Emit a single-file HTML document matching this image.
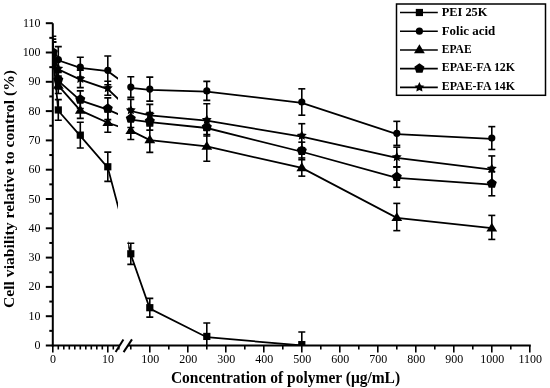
<!DOCTYPE html>
<html><head><meta charset="utf-8"><style>
html,body{margin:0;padding:0;background:#fff;}
body{width:550px;height:388px;overflow:hidden;}
svg{display:block;will-change:transform;}
.tl{font-family:"Liberation Serif",serif;font-size:12px;fill:#000;}
.tt{font-family:"Liberation Serif",serif;font-size:15.5px;font-weight:bold;fill:#000;}
.lg{font-family:"Liberation Serif",serif;font-size:12.2px;font-weight:bold;fill:#000;}
</style></head><body>
<svg width="550" height="388" viewBox="0 0 550 388">
<defs><clipPath id="cl"><rect x="52.8" y="0" width="65.2" height="345.5"/><rect x="128.2" y="0" width="500" height="345.5"/></clipPath><clipPath id="pa"><rect x="52.8" y="0" width="500" height="345.5"/></clipPath></defs>
<g clip-path="url(#pa)">
<path d="M52.80,53.30 L58.30,85.53 L80.30,110.43 L107.80,122.74 L130.80,130.65 L149.80,140.03 L206.80,146.47 L301.80,167.86 L396.80,217.82 L491.80,228.22" fill="none" stroke="#000" stroke-width="1.8" clip-path="url(#cl)"/>
<path d="M52.80,53.30 L58.30,80.84 L80.30,100.47 L107.80,109.56 L130.80,119.52 L149.80,122.15 L206.80,128.01 L301.80,151.75 L396.80,177.82 L491.80,184.56" fill="none" stroke="#000" stroke-width="1.8" clip-path="url(#cl)"/>
<path d="M52.80,53.30 L58.30,69.42 L80.30,79.67 L107.80,89.05 L130.80,111.02 L149.80,115.42 L206.80,120.69 L301.80,136.51 L396.80,157.90 L491.80,169.62" fill="none" stroke="#000" stroke-width="1.8" clip-path="url(#cl)"/>
<path d="M52.80,53.30 L58.30,60.33 L80.30,67.95 L107.80,71.17 L130.80,87.87 L149.80,89.92 L206.80,91.68 L301.80,102.82 L396.80,134.17 L491.80,138.86" fill="none" stroke="#000" stroke-width="1.8" clip-path="url(#cl)"/>
<path d="M52.80,53.30 L58.30,110.73 L80.30,135.93 L107.80,167.57 L130.80,254.59 L149.80,308.50 L206.80,337.22 L301.80,345.42" fill="none" stroke="#000" stroke-width="1.8" clip-path="url(#cl)"/>
<line x1="52.80" y1="41.95" x2="52.80" y2="63.05" stroke="#000" stroke-width="1.6"/>
<line x1="49.30" y1="41.95" x2="56.30" y2="41.95" stroke="#000" stroke-width="1.6"/>
<line x1="49.30" y1="63.05" x2="56.30" y2="63.05" stroke="#000" stroke-width="1.6"/>
<line x1="58.30" y1="75.94" x2="58.30" y2="93.52" stroke="#000" stroke-width="1.6"/>
<line x1="54.80" y1="75.94" x2="61.80" y2="75.94" stroke="#000" stroke-width="1.6"/>
<line x1="54.80" y1="93.52" x2="61.80" y2="93.52" stroke="#000" stroke-width="1.6"/>
<line x1="80.30" y1="100.84" x2="80.30" y2="118.42" stroke="#000" stroke-width="1.6"/>
<line x1="76.80" y1="100.84" x2="83.80" y2="100.84" stroke="#000" stroke-width="1.6"/>
<line x1="76.80" y1="118.42" x2="83.80" y2="118.42" stroke="#000" stroke-width="1.6"/>
<line x1="107.80" y1="111.69" x2="107.80" y2="132.20" stroke="#000" stroke-width="1.6"/>
<line x1="104.30" y1="111.69" x2="111.30" y2="111.69" stroke="#000" stroke-width="1.6"/>
<line x1="104.30" y1="132.20" x2="111.30" y2="132.20" stroke="#000" stroke-width="1.6"/>
<line x1="130.80" y1="120.18" x2="130.80" y2="139.52" stroke="#000" stroke-width="1.6"/>
<line x1="127.30" y1="120.18" x2="134.30" y2="120.18" stroke="#000" stroke-width="1.6"/>
<line x1="127.30" y1="139.52" x2="134.30" y2="139.52" stroke="#000" stroke-width="1.6"/>
<line x1="149.80" y1="126.04" x2="149.80" y2="152.41" stroke="#000" stroke-width="1.6"/>
<line x1="146.30" y1="126.04" x2="153.30" y2="126.04" stroke="#000" stroke-width="1.6"/>
<line x1="146.30" y1="152.41" x2="153.30" y2="152.41" stroke="#000" stroke-width="1.6"/>
<line x1="206.80" y1="130.14" x2="206.80" y2="161.20" stroke="#000" stroke-width="1.6"/>
<line x1="203.30" y1="130.14" x2="210.30" y2="130.14" stroke="#000" stroke-width="1.6"/>
<line x1="203.30" y1="161.20" x2="210.30" y2="161.20" stroke="#000" stroke-width="1.6"/>
<line x1="301.80" y1="157.98" x2="301.80" y2="176.15" stroke="#000" stroke-width="1.6"/>
<line x1="298.30" y1="157.98" x2="305.30" y2="157.98" stroke="#000" stroke-width="1.6"/>
<line x1="298.30" y1="176.15" x2="305.30" y2="176.15" stroke="#000" stroke-width="1.6"/>
<line x1="396.80" y1="203.39" x2="396.80" y2="230.64" stroke="#000" stroke-width="1.6"/>
<line x1="393.30" y1="203.39" x2="400.30" y2="203.39" stroke="#000" stroke-width="1.6"/>
<line x1="393.30" y1="230.64" x2="400.30" y2="230.64" stroke="#000" stroke-width="1.6"/>
<line x1="491.80" y1="215.41" x2="491.80" y2="239.43" stroke="#000" stroke-width="1.6"/>
<line x1="488.30" y1="215.41" x2="495.30" y2="215.41" stroke="#000" stroke-width="1.6"/>
<line x1="488.30" y1="239.43" x2="495.30" y2="239.43" stroke="#000" stroke-width="1.6"/>
<line x1="52.80" y1="41.95" x2="52.80" y2="63.05" stroke="#000" stroke-width="1.6"/>
<line x1="49.30" y1="41.95" x2="56.30" y2="41.95" stroke="#000" stroke-width="1.6"/>
<line x1="49.30" y1="63.05" x2="56.30" y2="63.05" stroke="#000" stroke-width="1.6"/>
<line x1="58.30" y1="71.25" x2="58.30" y2="88.83" stroke="#000" stroke-width="1.6"/>
<line x1="54.80" y1="71.25" x2="61.80" y2="71.25" stroke="#000" stroke-width="1.6"/>
<line x1="54.80" y1="88.83" x2="61.80" y2="88.83" stroke="#000" stroke-width="1.6"/>
<line x1="80.30" y1="90.88" x2="80.30" y2="108.46" stroke="#000" stroke-width="1.6"/>
<line x1="76.80" y1="90.88" x2="83.80" y2="90.88" stroke="#000" stroke-width="1.6"/>
<line x1="76.80" y1="108.46" x2="83.80" y2="108.46" stroke="#000" stroke-width="1.6"/>
<line x1="107.80" y1="97.91" x2="107.80" y2="119.60" stroke="#000" stroke-width="1.6"/>
<line x1="104.30" y1="97.91" x2="111.30" y2="97.91" stroke="#000" stroke-width="1.6"/>
<line x1="104.30" y1="119.60" x2="111.30" y2="119.60" stroke="#000" stroke-width="1.6"/>
<line x1="130.80" y1="109.93" x2="130.80" y2="127.51" stroke="#000" stroke-width="1.6"/>
<line x1="127.30" y1="109.93" x2="134.30" y2="109.93" stroke="#000" stroke-width="1.6"/>
<line x1="127.30" y1="127.51" x2="134.30" y2="127.51" stroke="#000" stroke-width="1.6"/>
<line x1="149.80" y1="112.56" x2="149.80" y2="130.14" stroke="#000" stroke-width="1.6"/>
<line x1="146.30" y1="112.56" x2="153.30" y2="112.56" stroke="#000" stroke-width="1.6"/>
<line x1="146.30" y1="130.14" x2="153.30" y2="130.14" stroke="#000" stroke-width="1.6"/>
<line x1="206.80" y1="119.89" x2="206.80" y2="134.54" stroke="#000" stroke-width="1.6"/>
<line x1="203.30" y1="119.89" x2="210.30" y2="119.89" stroke="#000" stroke-width="1.6"/>
<line x1="203.30" y1="134.54" x2="210.30" y2="134.54" stroke="#000" stroke-width="1.6"/>
<line x1="301.80" y1="142.16" x2="301.80" y2="159.74" stroke="#000" stroke-width="1.6"/>
<line x1="298.30" y1="142.16" x2="305.30" y2="142.16" stroke="#000" stroke-width="1.6"/>
<line x1="298.30" y1="159.74" x2="305.30" y2="159.74" stroke="#000" stroke-width="1.6"/>
<line x1="396.80" y1="166.77" x2="396.80" y2="187.28" stroke="#000" stroke-width="1.6"/>
<line x1="393.30" y1="166.77" x2="400.30" y2="166.77" stroke="#000" stroke-width="1.6"/>
<line x1="393.30" y1="187.28" x2="400.30" y2="187.28" stroke="#000" stroke-width="1.6"/>
<line x1="491.80" y1="171.75" x2="491.80" y2="195.78" stroke="#000" stroke-width="1.6"/>
<line x1="488.30" y1="171.75" x2="495.30" y2="171.75" stroke="#000" stroke-width="1.6"/>
<line x1="488.30" y1="195.78" x2="495.30" y2="195.78" stroke="#000" stroke-width="1.6"/>
<line x1="52.80" y1="41.95" x2="52.80" y2="63.05" stroke="#000" stroke-width="1.6"/>
<line x1="49.30" y1="41.95" x2="56.30" y2="41.95" stroke="#000" stroke-width="1.6"/>
<line x1="49.30" y1="63.05" x2="56.30" y2="63.05" stroke="#000" stroke-width="1.6"/>
<line x1="58.30" y1="59.82" x2="58.30" y2="77.40" stroke="#000" stroke-width="1.6"/>
<line x1="54.80" y1="59.82" x2="61.80" y2="59.82" stroke="#000" stroke-width="1.6"/>
<line x1="54.80" y1="77.40" x2="61.80" y2="77.40" stroke="#000" stroke-width="1.6"/>
<line x1="80.30" y1="70.08" x2="80.30" y2="87.66" stroke="#000" stroke-width="1.6"/>
<line x1="76.80" y1="70.08" x2="83.80" y2="70.08" stroke="#000" stroke-width="1.6"/>
<line x1="76.80" y1="87.66" x2="83.80" y2="87.66" stroke="#000" stroke-width="1.6"/>
<line x1="107.80" y1="81.21" x2="107.80" y2="95.28" stroke="#000" stroke-width="1.6"/>
<line x1="104.30" y1="81.21" x2="111.30" y2="81.21" stroke="#000" stroke-width="1.6"/>
<line x1="104.30" y1="95.28" x2="111.30" y2="95.28" stroke="#000" stroke-width="1.6"/>
<line x1="130.80" y1="99.38" x2="130.80" y2="121.06" stroke="#000" stroke-width="1.6"/>
<line x1="127.30" y1="99.38" x2="134.30" y2="99.38" stroke="#000" stroke-width="1.6"/>
<line x1="127.30" y1="121.06" x2="134.30" y2="121.06" stroke="#000" stroke-width="1.6"/>
<line x1="149.80" y1="104.36" x2="149.80" y2="124.87" stroke="#000" stroke-width="1.6"/>
<line x1="146.30" y1="104.36" x2="153.30" y2="104.36" stroke="#000" stroke-width="1.6"/>
<line x1="146.30" y1="124.87" x2="153.30" y2="124.87" stroke="#000" stroke-width="1.6"/>
<line x1="206.80" y1="103.77" x2="206.80" y2="136.00" stroke="#000" stroke-width="1.6"/>
<line x1="203.30" y1="103.77" x2="210.30" y2="103.77" stroke="#000" stroke-width="1.6"/>
<line x1="203.30" y1="136.00" x2="210.30" y2="136.00" stroke="#000" stroke-width="1.6"/>
<line x1="301.80" y1="123.70" x2="301.80" y2="147.72" stroke="#000" stroke-width="1.6"/>
<line x1="298.30" y1="123.70" x2="305.30" y2="123.70" stroke="#000" stroke-width="1.6"/>
<line x1="298.30" y1="147.72" x2="305.30" y2="147.72" stroke="#000" stroke-width="1.6"/>
<line x1="396.80" y1="147.14" x2="396.80" y2="167.06" stroke="#000" stroke-width="1.6"/>
<line x1="393.30" y1="147.14" x2="400.30" y2="147.14" stroke="#000" stroke-width="1.6"/>
<line x1="393.30" y1="167.06" x2="400.30" y2="167.06" stroke="#000" stroke-width="1.6"/>
<line x1="491.80" y1="155.93" x2="491.80" y2="181.71" stroke="#000" stroke-width="1.6"/>
<line x1="488.30" y1="155.93" x2="495.30" y2="155.93" stroke="#000" stroke-width="1.6"/>
<line x1="488.30" y1="181.71" x2="495.30" y2="181.71" stroke="#000" stroke-width="1.6"/>
<line x1="52.80" y1="39.17" x2="52.80" y2="65.83" stroke="#000" stroke-width="1.6"/>
<line x1="49.30" y1="39.17" x2="56.30" y2="39.17" stroke="#000" stroke-width="1.6"/>
<line x1="49.30" y1="65.83" x2="56.30" y2="65.83" stroke="#000" stroke-width="1.6"/>
<line x1="58.30" y1="46.64" x2="58.30" y2="72.42" stroke="#000" stroke-width="1.6"/>
<line x1="54.80" y1="46.64" x2="61.80" y2="46.64" stroke="#000" stroke-width="1.6"/>
<line x1="54.80" y1="72.42" x2="61.80" y2="72.42" stroke="#000" stroke-width="1.6"/>
<line x1="80.30" y1="57.19" x2="80.30" y2="77.11" stroke="#000" stroke-width="1.6"/>
<line x1="76.80" y1="57.19" x2="83.80" y2="57.19" stroke="#000" stroke-width="1.6"/>
<line x1="76.80" y1="77.11" x2="83.80" y2="77.11" stroke="#000" stroke-width="1.6"/>
<line x1="107.80" y1="56.02" x2="107.80" y2="84.73" stroke="#000" stroke-width="1.6"/>
<line x1="104.30" y1="56.02" x2="111.30" y2="56.02" stroke="#000" stroke-width="1.6"/>
<line x1="104.30" y1="84.73" x2="111.30" y2="84.73" stroke="#000" stroke-width="1.6"/>
<line x1="130.80" y1="76.82" x2="130.80" y2="97.33" stroke="#000" stroke-width="1.6"/>
<line x1="127.30" y1="76.82" x2="134.30" y2="76.82" stroke="#000" stroke-width="1.6"/>
<line x1="127.30" y1="97.33" x2="134.30" y2="97.33" stroke="#000" stroke-width="1.6"/>
<line x1="149.80" y1="77.11" x2="149.80" y2="101.14" stroke="#000" stroke-width="1.6"/>
<line x1="146.30" y1="77.11" x2="153.30" y2="77.11" stroke="#000" stroke-width="1.6"/>
<line x1="146.30" y1="101.14" x2="153.30" y2="101.14" stroke="#000" stroke-width="1.6"/>
<line x1="206.80" y1="81.36" x2="206.80" y2="100.41" stroke="#000" stroke-width="1.6"/>
<line x1="203.30" y1="81.36" x2="210.30" y2="81.36" stroke="#000" stroke-width="1.6"/>
<line x1="203.30" y1="100.41" x2="210.30" y2="100.41" stroke="#000" stroke-width="1.6"/>
<line x1="301.80" y1="88.83" x2="301.80" y2="115.20" stroke="#000" stroke-width="1.6"/>
<line x1="298.30" y1="88.83" x2="305.30" y2="88.83" stroke="#000" stroke-width="1.6"/>
<line x1="298.30" y1="115.20" x2="305.30" y2="115.20" stroke="#000" stroke-width="1.6"/>
<line x1="396.80" y1="121.35" x2="396.80" y2="145.38" stroke="#000" stroke-width="1.6"/>
<line x1="393.30" y1="121.35" x2="400.30" y2="121.35" stroke="#000" stroke-width="1.6"/>
<line x1="393.30" y1="145.38" x2="400.30" y2="145.38" stroke="#000" stroke-width="1.6"/>
<line x1="491.80" y1="126.63" x2="491.80" y2="149.48" stroke="#000" stroke-width="1.6"/>
<line x1="488.30" y1="126.63" x2="495.30" y2="126.63" stroke="#000" stroke-width="1.6"/>
<line x1="488.30" y1="149.48" x2="495.30" y2="149.48" stroke="#000" stroke-width="1.6"/>
<line x1="52.80" y1="36.24" x2="52.80" y2="68.76" stroke="#000" stroke-width="1.6"/>
<line x1="49.30" y1="36.24" x2="56.30" y2="36.24" stroke="#000" stroke-width="1.6"/>
<line x1="49.30" y1="68.76" x2="56.30" y2="68.76" stroke="#000" stroke-width="1.6"/>
<line x1="58.30" y1="99.67" x2="58.30" y2="120.18" stroke="#000" stroke-width="1.6"/>
<line x1="54.80" y1="99.67" x2="61.80" y2="99.67" stroke="#000" stroke-width="1.6"/>
<line x1="54.80" y1="120.18" x2="61.80" y2="120.18" stroke="#000" stroke-width="1.6"/>
<line x1="80.30" y1="122.23" x2="80.30" y2="148.02" stroke="#000" stroke-width="1.6"/>
<line x1="76.80" y1="122.23" x2="83.80" y2="122.23" stroke="#000" stroke-width="1.6"/>
<line x1="76.80" y1="148.02" x2="83.80" y2="148.02" stroke="#000" stroke-width="1.6"/>
<line x1="107.80" y1="152.12" x2="107.80" y2="181.42" stroke="#000" stroke-width="1.6"/>
<line x1="104.30" y1="152.12" x2="111.30" y2="152.12" stroke="#000" stroke-width="1.6"/>
<line x1="104.30" y1="181.42" x2="111.30" y2="181.42" stroke="#000" stroke-width="1.6"/>
<line x1="130.80" y1="243.24" x2="130.80" y2="264.34" stroke="#000" stroke-width="1.6"/>
<line x1="127.30" y1="243.24" x2="134.30" y2="243.24" stroke="#000" stroke-width="1.6"/>
<line x1="127.30" y1="264.34" x2="134.30" y2="264.34" stroke="#000" stroke-width="1.6"/>
<line x1="149.80" y1="298.33" x2="149.80" y2="317.08" stroke="#000" stroke-width="1.6"/>
<line x1="146.30" y1="298.33" x2="153.30" y2="298.33" stroke="#000" stroke-width="1.6"/>
<line x1="146.30" y1="317.08" x2="153.30" y2="317.08" stroke="#000" stroke-width="1.6"/>
<line x1="206.80" y1="322.94" x2="206.80" y2="349.89" stroke="#000" stroke-width="1.6"/>
<line x1="203.30" y1="322.94" x2="210.30" y2="322.94" stroke="#000" stroke-width="1.6"/>
<line x1="203.30" y1="349.89" x2="210.30" y2="349.89" stroke="#000" stroke-width="1.6"/>
<line x1="301.80" y1="332.02" x2="301.80" y2="357.22" stroke="#000" stroke-width="1.6"/>
<line x1="298.30" y1="332.02" x2="305.30" y2="332.02" stroke="#000" stroke-width="1.6"/>
<line x1="298.30" y1="357.22" x2="305.30" y2="357.22" stroke="#000" stroke-width="1.6"/>
<polygon points="52.80,47.80 58.20,56.60 47.40,56.60" fill="#000"/>
<polygon points="58.30,80.03 63.70,88.83 52.90,88.83" fill="#000"/>
<polygon points="80.30,104.93 85.70,113.73 74.90,113.73" fill="#000"/>
<polygon points="107.80,117.24 113.20,126.04 102.40,126.04" fill="#000"/>
<polygon points="130.80,125.15 136.20,133.95 125.40,133.95" fill="#000"/>
<polygon points="149.80,134.53 155.20,143.33 144.40,143.33" fill="#000"/>
<polygon points="206.80,140.97 212.20,149.77 201.40,149.77" fill="#000"/>
<polygon points="301.80,162.36 307.20,171.16 296.40,171.16" fill="#000"/>
<polygon points="396.80,212.32 402.20,221.12 391.40,221.12" fill="#000"/>
<polygon points="491.80,222.72 497.20,231.52 486.40,231.52" fill="#000"/>
<polygon points="52.80,47.00 57.84,50.66 55.92,56.59 49.68,56.59 47.76,50.66" fill="#000"/>
<polygon points="58.30,74.54 63.34,78.20 61.42,84.13 55.18,84.13 53.26,78.20" fill="#000"/>
<polygon points="80.30,94.17 85.34,97.84 83.42,103.76 77.18,103.76 75.26,97.84" fill="#000"/>
<polygon points="107.80,103.26 112.84,106.92 110.92,112.84 104.68,112.84 102.76,106.92" fill="#000"/>
<polygon points="130.80,113.22 135.84,116.88 133.92,122.81 127.68,122.81 125.76,116.88" fill="#000"/>
<polygon points="149.80,115.85 154.84,119.52 152.92,125.44 146.68,125.44 144.76,119.52" fill="#000"/>
<polygon points="206.80,121.71 211.84,125.38 209.92,131.30 203.68,131.30 201.76,125.38" fill="#000"/>
<polygon points="301.80,145.45 306.84,149.11 304.92,155.04 298.68,155.04 296.76,149.11" fill="#000"/>
<polygon points="396.80,171.52 401.84,175.19 399.92,181.11 393.68,181.11 391.76,175.19" fill="#000"/>
<polygon points="491.80,178.26 496.84,181.93 494.92,187.85 488.68,187.85 486.76,181.93" fill="#000"/>
<polygon points="52.80,47.20 54.33,50.30 57.75,50.79 55.27,53.20 55.86,56.61 52.80,55.00 49.74,56.61 50.33,53.20 47.85,50.79 51.27,50.30" fill="#000"/>
<polygon points="58.30,63.32 59.83,66.41 63.25,66.91 60.77,69.32 61.36,72.72 58.30,71.12 55.24,72.72 55.83,69.32 53.35,66.91 56.77,66.41" fill="#000"/>
<polygon points="80.30,73.57 81.83,76.67 85.25,77.16 82.77,79.57 83.36,82.98 80.30,81.37 77.24,82.98 77.83,79.57 75.35,77.16 78.77,76.67" fill="#000"/>
<polygon points="107.80,82.95 109.33,86.04 112.75,86.54 110.27,88.95 110.86,92.35 107.80,90.75 104.74,92.35 105.33,88.95 102.85,86.54 106.27,86.04" fill="#000"/>
<polygon points="130.80,104.92 132.33,108.02 135.75,108.51 133.27,110.92 133.86,114.33 130.80,112.72 127.74,114.33 128.33,110.92 125.85,108.51 129.27,108.02" fill="#000"/>
<polygon points="149.80,109.32 151.33,112.41 154.75,112.91 152.27,115.32 152.86,118.72 149.80,117.12 146.74,118.72 147.33,115.32 144.85,112.91 148.27,112.41" fill="#000"/>
<polygon points="206.80,114.59 208.33,117.69 211.75,118.18 209.27,120.59 209.86,124.00 206.80,122.39 203.74,124.00 204.33,120.59 201.85,118.18 205.27,117.69" fill="#000"/>
<polygon points="301.80,130.41 303.33,133.51 306.75,134.01 304.27,136.42 304.86,139.82 301.80,138.21 298.74,139.82 299.33,136.42 296.85,134.01 300.27,133.51" fill="#000"/>
<polygon points="396.80,151.80 398.33,154.90 401.75,155.39 399.27,157.80 399.86,161.21 396.80,159.60 393.74,161.21 394.33,157.80 391.85,155.39 395.27,154.90" fill="#000"/>
<polygon points="491.80,163.52 493.33,166.62 496.75,167.11 494.27,169.52 494.86,172.93 491.80,171.32 488.74,172.93 489.33,169.52 486.85,167.11 490.27,166.62" fill="#000"/>
<circle cx="52.80" cy="52.50" r="3.60" fill="#000"/>
<circle cx="58.30" cy="59.53" r="3.60" fill="#000"/>
<circle cx="80.30" cy="67.15" r="3.60" fill="#000"/>
<circle cx="107.80" cy="70.37" r="3.60" fill="#000"/>
<circle cx="130.80" cy="87.07" r="3.60" fill="#000"/>
<circle cx="149.80" cy="89.12" r="3.60" fill="#000"/>
<circle cx="206.80" cy="90.88" r="3.60" fill="#000"/>
<circle cx="301.80" cy="102.02" r="3.60" fill="#000"/>
<circle cx="396.80" cy="133.37" r="3.60" fill="#000"/>
<circle cx="491.80" cy="138.06" r="3.60" fill="#000"/>
<rect x="49.20" y="48.90" width="7.20" height="7.20" fill="#000"/>
<rect x="54.70" y="106.33" width="7.20" height="7.20" fill="#000"/>
<rect x="76.70" y="131.53" width="7.20" height="7.20" fill="#000"/>
<rect x="104.20" y="163.17" width="7.20" height="7.20" fill="#000"/>
<rect x="127.20" y="250.19" width="7.20" height="7.20" fill="#000"/>
<rect x="146.20" y="304.10" width="7.20" height="7.20" fill="#000"/>
<rect x="203.20" y="332.82" width="7.20" height="7.20" fill="#000"/>
<rect x="298.20" y="341.02" width="7.20" height="7.20" fill="#000"/>
</g>
<line x1="52.8" y1="23.19999999999999" x2="52.8" y2="346.5" stroke="#000" stroke-width="2"/>
<line x1="45.8" y1="345.50" x2="52.8" y2="345.50" stroke="#000" stroke-width="2"/>
<line x1="49.3" y1="330.85" x2="52.8" y2="330.85" stroke="#000" stroke-width="2"/>
<line x1="45.8" y1="316.20" x2="52.8" y2="316.20" stroke="#000" stroke-width="2"/>
<line x1="49.3" y1="301.55" x2="52.8" y2="301.55" stroke="#000" stroke-width="2"/>
<line x1="45.8" y1="286.90" x2="52.8" y2="286.90" stroke="#000" stroke-width="2"/>
<line x1="49.3" y1="272.25" x2="52.8" y2="272.25" stroke="#000" stroke-width="2"/>
<line x1="45.8" y1="257.60" x2="52.8" y2="257.60" stroke="#000" stroke-width="2"/>
<line x1="49.3" y1="242.95" x2="52.8" y2="242.95" stroke="#000" stroke-width="2"/>
<line x1="45.8" y1="228.30" x2="52.8" y2="228.30" stroke="#000" stroke-width="2"/>
<line x1="49.3" y1="213.65" x2="52.8" y2="213.65" stroke="#000" stroke-width="2"/>
<line x1="45.8" y1="199.00" x2="52.8" y2="199.00" stroke="#000" stroke-width="2"/>
<line x1="49.3" y1="184.35" x2="52.8" y2="184.35" stroke="#000" stroke-width="2"/>
<line x1="45.8" y1="169.70" x2="52.8" y2="169.70" stroke="#000" stroke-width="2"/>
<line x1="49.3" y1="155.05" x2="52.8" y2="155.05" stroke="#000" stroke-width="2"/>
<line x1="45.8" y1="140.40" x2="52.8" y2="140.40" stroke="#000" stroke-width="2"/>
<line x1="49.3" y1="125.75" x2="52.8" y2="125.75" stroke="#000" stroke-width="2"/>
<line x1="45.8" y1="111.10" x2="52.8" y2="111.10" stroke="#000" stroke-width="2"/>
<line x1="49.3" y1="96.45" x2="52.8" y2="96.45" stroke="#000" stroke-width="2"/>
<line x1="45.8" y1="81.80" x2="52.8" y2="81.80" stroke="#000" stroke-width="2"/>
<line x1="49.3" y1="67.15" x2="52.8" y2="67.15" stroke="#000" stroke-width="2"/>
<line x1="45.8" y1="52.50" x2="52.8" y2="52.50" stroke="#000" stroke-width="2"/>
<line x1="49.3" y1="37.85" x2="52.8" y2="37.85" stroke="#000" stroke-width="2"/>
<line x1="45.8" y1="23.20" x2="52.8" y2="23.20" stroke="#000" stroke-width="2"/>
<text transform="translate(40.6,349.00) scale(1,1.08)" class="tl" text-anchor="end">0</text>
<text transform="translate(40.6,319.70) scale(1,1.08)" class="tl" text-anchor="end">10</text>
<text transform="translate(40.6,290.40) scale(1,1.08)" class="tl" text-anchor="end">20</text>
<text transform="translate(40.6,261.10) scale(1,1.08)" class="tl" text-anchor="end">30</text>
<text transform="translate(40.6,231.80) scale(1,1.08)" class="tl" text-anchor="end">40</text>
<text transform="translate(40.6,202.50) scale(1,1.08)" class="tl" text-anchor="end">50</text>
<text transform="translate(40.6,173.20) scale(1,1.08)" class="tl" text-anchor="end">60</text>
<text transform="translate(40.6,143.90) scale(1,1.08)" class="tl" text-anchor="end">70</text>
<text transform="translate(40.6,114.60) scale(1,1.08)" class="tl" text-anchor="end">80</text>
<text transform="translate(40.6,85.30) scale(1,1.08)" class="tl" text-anchor="end">90</text>
<text transform="translate(40.6,56.00) scale(1,1.08)" class="tl" text-anchor="end">100</text>
<text transform="translate(40.6,26.70) scale(1,1.08)" class="tl" text-anchor="end">110</text>
<line x1="51.8" y1="345.5" x2="119.8" y2="345.5" stroke="#000" stroke-width="2"/>
<line x1="128.1" y1="345.5" x2="530.8" y2="345.5" stroke="#000" stroke-width="2"/>
<line x1="52.80" y1="345.5" x2="52.80" y2="352.5" stroke="#000" stroke-width="1.6"/>
<line x1="58.30" y1="345.5" x2="58.30" y2="349.5" stroke="#000" stroke-width="1.6"/>
<line x1="63.80" y1="345.5" x2="63.80" y2="349.5" stroke="#000" stroke-width="1.6"/>
<line x1="69.30" y1="345.5" x2="69.30" y2="349.5" stroke="#000" stroke-width="1.6"/>
<line x1="74.80" y1="345.5" x2="74.80" y2="349.5" stroke="#000" stroke-width="1.6"/>
<line x1="80.30" y1="345.5" x2="80.30" y2="349.5" stroke="#000" stroke-width="1.6"/>
<line x1="85.80" y1="345.5" x2="85.80" y2="349.5" stroke="#000" stroke-width="1.6"/>
<line x1="91.30" y1="345.5" x2="91.30" y2="349.5" stroke="#000" stroke-width="1.6"/>
<line x1="96.80" y1="345.5" x2="96.80" y2="349.5" stroke="#000" stroke-width="1.6"/>
<line x1="102.30" y1="345.5" x2="102.30" y2="349.5" stroke="#000" stroke-width="1.6"/>
<line x1="107.80" y1="345.5" x2="107.80" y2="352.5" stroke="#000" stroke-width="1.6"/>
<line x1="113.30" y1="345.5" x2="113.30" y2="349.5" stroke="#000" stroke-width="1.6"/>
<line x1="118.80" y1="345.5" x2="118.80" y2="349.5" stroke="#000" stroke-width="1.6"/>
<line x1="130.80" y1="345.5" x2="130.80" y2="349.5" stroke="#000" stroke-width="1.6"/>
<line x1="149.80" y1="345.5" x2="149.80" y2="352.5" stroke="#000" stroke-width="1.6"/>
<line x1="168.80" y1="345.5" x2="168.80" y2="349.5" stroke="#000" stroke-width="1.6"/>
<line x1="187.80" y1="345.5" x2="187.80" y2="352.5" stroke="#000" stroke-width="1.6"/>
<line x1="206.80" y1="345.5" x2="206.80" y2="349.5" stroke="#000" stroke-width="1.6"/>
<line x1="225.80" y1="345.5" x2="225.80" y2="352.5" stroke="#000" stroke-width="1.6"/>
<line x1="244.80" y1="345.5" x2="244.80" y2="349.5" stroke="#000" stroke-width="1.6"/>
<line x1="263.80" y1="345.5" x2="263.80" y2="352.5" stroke="#000" stroke-width="1.6"/>
<line x1="282.80" y1="345.5" x2="282.80" y2="349.5" stroke="#000" stroke-width="1.6"/>
<line x1="301.80" y1="345.5" x2="301.80" y2="352.5" stroke="#000" stroke-width="1.6"/>
<line x1="320.80" y1="345.5" x2="320.80" y2="349.5" stroke="#000" stroke-width="1.6"/>
<line x1="339.80" y1="345.5" x2="339.80" y2="352.5" stroke="#000" stroke-width="1.6"/>
<line x1="358.80" y1="345.5" x2="358.80" y2="349.5" stroke="#000" stroke-width="1.6"/>
<line x1="377.80" y1="345.5" x2="377.80" y2="352.5" stroke="#000" stroke-width="1.6"/>
<line x1="396.80" y1="345.5" x2="396.80" y2="349.5" stroke="#000" stroke-width="1.6"/>
<line x1="415.80" y1="345.5" x2="415.80" y2="352.5" stroke="#000" stroke-width="1.6"/>
<line x1="434.80" y1="345.5" x2="434.80" y2="349.5" stroke="#000" stroke-width="1.6"/>
<line x1="453.80" y1="345.5" x2="453.80" y2="352.5" stroke="#000" stroke-width="1.6"/>
<line x1="472.80" y1="345.5" x2="472.80" y2="349.5" stroke="#000" stroke-width="1.6"/>
<line x1="491.80" y1="345.5" x2="491.80" y2="352.5" stroke="#000" stroke-width="1.6"/>
<line x1="510.80" y1="345.5" x2="510.80" y2="349.5" stroke="#000" stroke-width="1.6"/>
<line x1="529.80" y1="345.5" x2="529.80" y2="352.5" stroke="#000" stroke-width="1.6"/>
<line x1="115.6" y1="352.1" x2="123.4" y2="339.4" stroke="#000" stroke-width="2"/>
<line x1="123.6" y1="352.1" x2="132" y2="339.4" stroke="#000" stroke-width="2"/>
<text transform="translate(53.10,362.8) scale(1,1.08)" class="tl" text-anchor="middle">0</text>
<text transform="translate(108.10,362.8) scale(1,1.08)" class="tl" text-anchor="middle">10</text>
<text transform="translate(150.30,362.8) scale(1,1.08)" class="tl" text-anchor="middle">100</text>
<text transform="translate(188.30,362.8) scale(1,1.08)" class="tl" text-anchor="middle">200</text>
<text transform="translate(226.30,362.8) scale(1,1.08)" class="tl" text-anchor="middle">300</text>
<text transform="translate(264.30,362.8) scale(1,1.08)" class="tl" text-anchor="middle">400</text>
<text transform="translate(302.30,362.8) scale(1,1.08)" class="tl" text-anchor="middle">500</text>
<text transform="translate(340.30,362.8) scale(1,1.08)" class="tl" text-anchor="middle">600</text>
<text transform="translate(378.30,362.8) scale(1,1.08)" class="tl" text-anchor="middle">700</text>
<text transform="translate(416.30,362.8) scale(1,1.08)" class="tl" text-anchor="middle">800</text>
<text transform="translate(454.30,362.8) scale(1,1.08)" class="tl" text-anchor="middle">900</text>
<text transform="translate(492.30,362.8) scale(1,1.08)" class="tl" text-anchor="middle">1000</text>
<text transform="translate(530.30,362.8) scale(1,1.08)" class="tl" text-anchor="middle">1100</text>
<g transform="translate(285.5,383.3) scale(1,1.09)"><text x="0" y="0" class="tt" text-anchor="middle">Concentration of polymer (&#956;g/mL)</text></g>
<text transform="translate(14.2,189) rotate(-90) scale(1.08,1)" style="font-size:14.5px" class="tt" text-anchor="middle">Cell viability relative to control (%)</text>
<rect x="396.5" y="4" width="149" height="91.3" fill="#fff" stroke="#000" stroke-width="1.5"/>
<line x1="400" y1="12.50" x2="437.8" y2="12.50" stroke="#000" stroke-width="1.6"/>
<rect x="415.80" y="8.90" width="7.20" height="7.20" fill="#000"/>
<g transform="translate(441.7,16.40) scale(1,1.08)"><text x="0" y="0" class="lg" textLength="45.7" lengthAdjust="spacingAndGlyphs">PEI 25K</text></g>
<line x1="400" y1="31.22" x2="437.8" y2="31.22" stroke="#000" stroke-width="1.6"/>
<circle cx="419.40" cy="31.22" r="3.60" fill="#000"/>
<g transform="translate(441.7,34.68) scale(1,1.08)"><text x="0" y="0" class="lg" textLength="53.5" lengthAdjust="spacingAndGlyphs">Folic acid</text></g>
<line x1="400" y1="49.94" x2="437.8" y2="49.94" stroke="#000" stroke-width="1.6"/>
<polygon points="419.40,44.34 424.80,53.14 414.00,53.14" fill="#000"/>
<g transform="translate(441.7,52.96) scale(1,1.08)"><text x="0" y="0" class="lg" textLength="29.9" lengthAdjust="spacingAndGlyphs">EPAE</text></g>
<line x1="400" y1="68.66" x2="437.8" y2="68.66" stroke="#000" stroke-width="1.6"/>
<polygon points="419.40,63.16 424.44,66.82 422.52,72.75 416.28,72.75 414.36,66.82" fill="#000"/>
<g transform="translate(441.7,71.24) scale(1,1.08)"><text x="0" y="0" class="lg" textLength="73.4" lengthAdjust="spacingAndGlyphs">EPAE-FA 12K</text></g>
<line x1="400" y1="87.38" x2="437.8" y2="87.38" stroke="#000" stroke-width="1.6"/>
<polygon points="419.40,82.08 420.93,85.18 424.35,85.67 421.87,88.08 422.46,91.49 419.40,89.88 416.34,91.49 416.93,88.08 414.45,85.67 417.87,85.18" fill="#000"/>
<g transform="translate(441.7,89.52) scale(1,1.08)"><text x="0" y="0" class="lg" textLength="73.4" lengthAdjust="spacingAndGlyphs">EPAE-FA 14K</text></g>
</svg>
</body></html>
